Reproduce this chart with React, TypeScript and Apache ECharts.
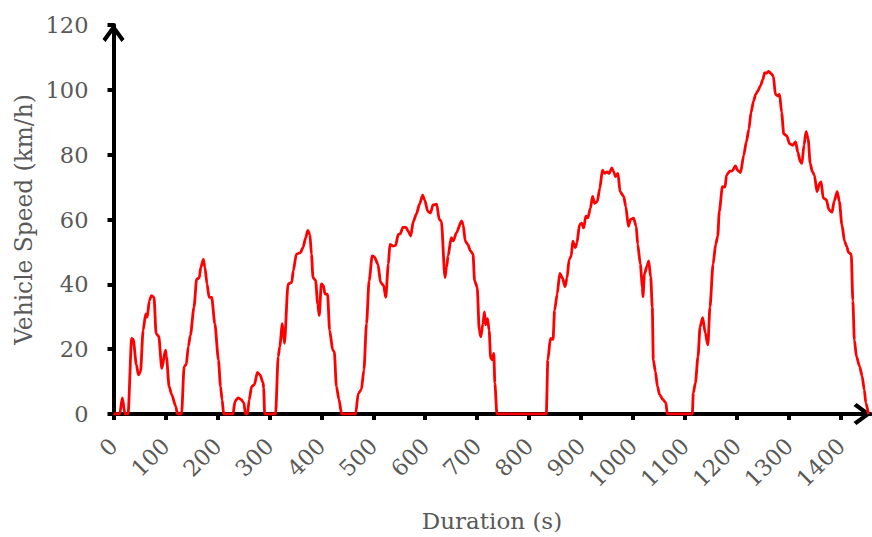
import React, { useEffect, useRef } from "react";
import * as echarts from "echarts";

const times: number[] = [
  0, 12, 17, 22, 28, 35, 38, 44, 48, 52, 57, 62, 65, 69, 73, 78, 82, 87, 93, 100,
  102, 107, 112, 120, 123, 131, 136, 140, 144, 148, 155, 160, 165, 168, 173, 176, 180, 184, 189, 195,
  202, 206, 209, 212, 230, 234, 240, 246, 251, 254, 258, 261, 266, 271, 277, 282, 288, 289, 291, 312,
  317, 320, 325, 329, 336, 343, 346, 352, 360, 365, 370, 374, 378, 381, 384, 389, 393, 396, 400, 404,
  407, 412, 416, 422, 425, 429, 434, 439, 466, 471, 477, 482, 487, 492, 498, 502, 509, 514, 520, 524,
  529, 532, 538, 543, 548, 552, 557, 563, 567, 572, 577, 583, 589, 595, 599, 605, 610, 615, 622, 627,
  631, 638, 641, 644, 650, 654, 660, 670, 673, 677, 682, 687, 692, 695, 700, 704, 707, 711, 714, 716,
  720, 723, 726, 729, 732, 734, 738, 833, 836, 841, 846, 849, 854, 859, 864, 869, 873, 877, 881, 884,
  889, 892, 897, 901, 905, 909, 913, 918, 922, 926, 931, 936, 941, 945, 950, 954, 959, 963, 966, 971,
  975, 982, 986, 991, 995, 1001, 1006, 1009, 1014, 1018, 1019, 1022, 1027, 1030, 1034, 1037, 1039, 1043, 1047, 1051,
  1057, 1063, 1066, 1114, 1116, 1120, 1125, 1129, 1134, 1139, 1144, 1148, 1154, 1159, 1163, 1166, 1172, 1177, 1180, 1186,
  1191, 1197, 1202, 1207, 1213, 1218, 1223, 1227, 1232, 1236, 1240, 1245, 1250, 1253, 1257, 1261, 1266, 1270, 1274, 1279,
  1282, 1286, 1290, 1296, 1301, 1307, 1313, 1317, 1322, 1325, 1329, 1333, 1337, 1341, 1345, 1349, 1354, 1359, 1362, 1366,
  1372, 1377, 1383, 1387, 1393, 1397, 1402, 1407, 1411, 1415, 1420, 1423, 1426, 1430, 1436, 1441, 1445, 1448, 1453,
];

const speeds: number[] = [
  0, 0, 5, 0, 0, 23.3, 23, 15.2, 12.1, 13, 25.8, 30.9, 29.9, 35, 36.5, 36, 24.8, 24, 14.1, 19.7,
  17.6, 8.5, 6, 2.3, 0, 0, 14.7, 15.2, 20.8, 24.3, 33, 41.6, 42, 45.2, 47.7, 45.2, 40.1, 36, 36, 27.9,
  16.7, 8.5, 4.4, 0, 0, 4, 5, 4.4, 3.4, 0, 0, 4.3, 8.5, 9, 12.8, 12.1, 9.6, 8, 0, 0,
  17.7, 20.8, 27.9, 21.8, 40.1, 40.6, 44.2, 49.3, 49.8, 51.5, 54.4, 56.6, 55.4, 49.3, 42.1, 41.2, 34, 30.4, 40.1, 39.6,
  37, 37, 25.8, 19.7, 19.2, 8.5, 4.5, 0, 0, 6.3, 7.5, 13.6, 27.9, 41.1, 48.8, 48.5, 46.2, 40.6, 39.6, 36,
  46.2, 52.3, 51.8, 52, 55.4, 55.6, 57.6, 57.6, 56.4, 54.9, 59.4, 61.7, 64.7, 67.5, 66, 62.5, 62, 64.5, 64.7, 60,
  59.5, 42.1, 45.2, 48.8, 54.4, 53.4, 55.9, 59.6, 58.4, 53.3, 52.3, 50.3, 49.3, 41.1, 39.1, 25.8, 23.8, 27.9, 31.5, 27.5,
  29.4, 25.8, 17.2, 16.7, 18.7, 9.5, 0, 0, 16.7, 23.3, 23, 32, 37, 43.4, 42, 39.3, 42, 47.7, 48.7, 53.3,
  51.3, 52.8, 58.4, 58.9, 57.4, 61, 60.5, 63.5, 67.1, 65, 65.5, 69.6, 75.2, 74.2, 74.7, 74.2, 75.9, 74.7, 73.2, 74.2,
  68.6, 67.1, 64, 57.9, 60, 60.4, 57.9, 52.3, 46.2, 39.1, 36.2, 43.2, 45.7, 47.2, 42.2, 33, 16.7, 13.1, 8.5, 6,
  4.5, 3.5, 0, 0, 6.5, 9.6, 17.7, 26.9, 29.7, 25, 21.3, 33, 46.2, 52.3, 54.9, 62.5, 70.1, 70, 73.7, 74.9,
  75, 76.5, 75, 74.5, 79.8, 83.9, 87.9, 93, 96.6, 98.6, 99.6, 101.2, 103.2, 105.2, 105.2, 105.7, 105, 104.2, 98.6, 98.1,
  98.6, 93, 86.4, 85.8, 83.4, 82.9, 83.9, 80.8, 77.8, 77.3, 82.9, 87.1, 84.9, 77.3, 74.8, 73.7, 68.6, 71.1, 71.6, 66.6,
  66.1, 63, 62.3, 65.6, 68.6, 65.6, 58.4, 53.3, 51.8, 49.8, 49.3, 35, 22.8, 17.7, 14.7, 11.6, 7.5, 3.5, 0,
];

const xTicks: number[] = [0, 100, 200, 300, 400, 500, 600, 700, 800, 900, 1000, 1100, 1200, 1300, 1400];
const yTicks: number[] = [0, 20, 40, 60, 80, 100, 120];

const CHEVRON = "path://M11,0 L22,15 L19,18 L11,7 L3,18 L0,15 Z";
const FONT = "DejaVu Serif";
const GRAY = "#595959";

export default function App() {
  const ref = useRef<HTMLDivElement>(null);
  useEffect(() => {
    if (!ref.current) return;
    const chart = echarts.init(ref.current, undefined, { renderer: "svg" });
    const data = times.map((t, i) => [t, speeds[i]]);
    chart.setOption({
      animation: false,
      backgroundColor: "#ffffff",
      grid: { left: 113.5, right: 1.5, top: 25, bottom: 119, containLabel: false },
      xAxis: {
        type: "value",
        min: 0,
        max: 1457,
        interval: 100,
        name: "Duration (s)",
        nameLocation: "middle",
        nameGap: 95,
        nameTextStyle: { fontFamily: FONT, fontSize: 23, color: GRAY },
        splitLine: { show: false },
        axisLine: {
          show: true,
          lineStyle: { color: "#000000", width: 4 },
          symbol: ["none", CHEVRON],
          symbolSize: [22, 18],
          symbolOffset: [0, -8],
        },
        axisTick: { show: true, length: 6, lineStyle: { color: "#000", width: 4 }, customValues: xTicks },
        axisLabel: {
          customValues: xTicks,
          rotate: 45,
          margin: 28,
          fontFamily: FONT,
          fontSize: 22.5,
          color: GRAY,
          formatter: (v: number) => String(v),
        },
      },
      yAxis: {
        type: "value",
        min: 0,
        max: 120,
        interval: 20,
        name: "Vehicle Speed (km/h)",
        nameLocation: "middle",
        nameGap: 79,
        nameRotate: 90,
        nameTextStyle: { fontFamily: FONT, fontSize: 23.3, color: GRAY },
        splitLine: { show: false },
        axisLine: {
          show: true,
          lineStyle: { color: "#000000", width: 4 },
          symbol: ["none", CHEVRON],
          symbolSize: [22, 18],
          symbolOffset: [0, -8],
        },
        axisTick: { show: true, length: 6, lineStyle: { color: "#000", width: 4 }, customValues: yTicks },
        axisLabel: {
          customValues: yTicks,
          margin: 25,
          fontFamily: FONT,
          fontSize: 22.5,
          color: GRAY,
          formatter: (v: number) => String(v),
        },
      },
      series: [
        {
          type: "line",
          data,
          showSymbol: false,
          smooth: 0.25,
          smoothMonotone: "x",
          lineStyle: { color: "#FF0000", width: 2.8 },
          z: 5,
        },
      ],
    });
    return () => chart.dispose();
  }, []);
  return (
    <div
      ref={ref}
      style={{ position: "fixed", left: 0, top: 0, width: 872, height: 537, background: "#fff" }}
    />
  );
}
